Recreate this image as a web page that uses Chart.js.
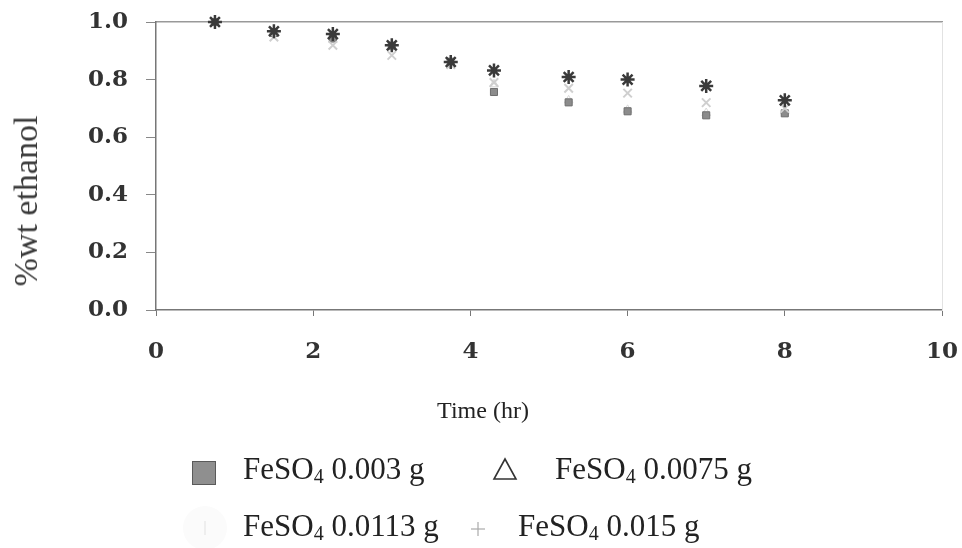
<!DOCTYPE html>
<html>
<head>
<meta charset="utf-8">
<script src="https://cdn.jsdelivr.net/npm/chart.js@4/dist/chart.umd.min.js"></script>
<style>
  html, body { margin: 0; padding: 0; background: #fff; }
  #wrap { position: relative; width: 962px; height: 548px; overflow: hidden; font-family: "Liberation Serif", "Times New Roman", serif; color: #222; }
  #c { position: absolute; left: 0; top: 0; }
  .ytitle { position: absolute; left: 26px; top: 201px; transform: translate(-50%, -50%) rotate(-90deg); font-size: 34px; white-space: nowrap; color: #3a3a3a; }
  .xtitle { position: absolute; left: 483px; top: 410px; transform: translate(-50%, -50%); font-size: 24px; white-space: nowrap; color: #222; }
  .leg { position: absolute; font-size: 31px; white-space: nowrap; color: #222; line-height: 1; }
  .leg sub { font-size: 20px; vertical-align: -4px; line-height: 0; }
  .mk { position: absolute; }
</style>
</head>
<body>
<div id="wrap">
  <canvas id="c" width="962" height="548"></canvas>
  <div class="ytitle">%wt ethanol</div>
  <div class="xtitle">Time (hr)</div>
  <div id="legend"></div>
</div>
<script>
// ---- data ----
const times = [0.75, 1.5, 2.25, 3, 3.75, 4.3, 5.25, 6, 7, 8];
const fe0030 = [1.0, 0.962, 0.943, 0.918, 0.862, 0.757, 0.721, 0.690, 0.676, 0.683];
const fe0075 = [1.0, 0.958, 0.938, 0.912, 0.858, 0.784, 0.728, 0.695, 0.684, 0.690];
const fe0113 = [1.0, 0.948, 0.919, 0.884, 0.852, 0.790, 0.770, 0.753, 0.720, 0.700];
const fe0150 = [1.0, 0.968, 0.958, 0.919, 0.861, 0.832, 0.809, 0.800, 0.778, 0.728];
const seriesNames = ['FeSO₄ 0.003 g', 'FeSO₄ 0.0075 g', 'FeSO₄ 0.0113 g', 'FeSO₄ 0.015 g'];
const xTicks = [0, 2, 4, 6, 8, 10];
const yTicks = [0.0, 0.2, 0.4, 0.6, 0.8, 1.0];

function pts(ys) { return times.map((t, i) => ({ x: t, y: ys[i] })); }

const tickFont = { family: 'DejaVu Serif', size: 23, weight: 'bold' };
function noPad(s) { s.paddingLeft = 0; s.paddingRight = 0; s.paddingTop = 0; s.paddingBottom = 0; }

new Chart(document.getElementById('c'), {
  type: 'scatter',
  data: {
    datasets: [
      { label: seriesNames[3], data: pts(fe0150), pointStyle: 'star', pointRadius: 7, borderColor: '#3a3a3a', backgroundColor: '#3a3a3a', pointBorderWidth: 2.5, order: 1 },
      { label: seriesNames[2], data: pts(fe0113), pointStyle: 'crossRot', pointRadius: 6, borderColor: '#cfcfcf', backgroundColor: '#cfcfcf', pointBorderWidth: 2, order: 2 },
      { label: seriesNames[0], data: pts(fe0030), pointStyle: 'rect', pointRadius: 5, borderColor: '#6e6e6e', backgroundColor: '#8c8c8c', pointBorderWidth: 1, order: 3 },
      { label: seriesNames[1], data: pts(fe0075), pointStyle: 'triangle', pointRadius: 5, borderColor: '#d8d8d8', backgroundColor: 'rgba(0,0,0,0)', pointBorderWidth: 1, order: 4 }
    ]
  },
  options: {
    responsive: false,
    animation: false,
    clip: false,
    layout: { padding: { top: 22, right: 20, bottom: 178, left: 0 } },
    plugins: { legend: { display: false }, tooltip: { enabled: false } },
    scales: {
      x: {
        type: 'linear', position: 'bottom', min: 0, max: 10,
        afterBuildTicks: s => { s.ticks = xTicks.map(v => ({ value: v })); },
        ticks: { font: tickFont, color: '#333', padding: 22, callback: v => String(v) },
        grid: { drawOnChartArea: false, drawTicks: true, tickLength: 6, color: '#777' },
        border: { color: '#777', width: 1.5 },
        afterFit: s => { s.height = 60; noPad(s); }
      },
      x2: {
        type: 'linear', position: 'top', min: 0, max: 10,
        ticks: { display: false },
        grid: { drawOnChartArea: false, drawTicks: false },
        border: { color: '#999', width: 1.5 },
        afterFit: s => { s.height = 0; noPad(s); }
      },
      y: {
        type: 'linear', position: 'left', min: 0, max: 1,
        afterBuildTicks: s => { s.ticks = yTicks.map(v => ({ value: v })); },
        ticks: { font: tickFont, color: '#333', padding: 18, callback: v => Number(v).toFixed(1) },
        grid: { drawOnChartArea: false, drawTicks: true, tickLength: 10, color: '#888' },
        border: { color: '#777', width: 1.5 },
        afterFit: s => { s.width = 156; noPad(s); }
      },
      y2: {
        type: 'linear', position: 'right', min: 0, max: 1,
        ticks: { display: false },
        grid: { drawOnChartArea: false, drawTicks: false },
        border: { color: '#e2e2e2', width: 1 },
        afterFit: s => { s.width = 0; noPad(s); }
      }
    }
  }
});

// ---- legend (HTML text, two rows) ----
const legendPos = [
  { tx: 243, ty: 453, mk: 'square', mx: 192, my: 461 },
  { tx: 555, ty: 453, mk: 'tri', mx: 492, my: 457 },
  { tx: 243, ty: 510, mk: 'circ', mx: 180, my: 503 },
  { tx: 518, ty: 510, mk: 'plus', mx: 470, my: 521 }
];
const legend = document.getElementById('legend');
seriesNames.forEach((name, i) => {
  const p = legendPos[i];
  const t = document.createElement('div');
  t.className = 'leg';
  t.style.left = p.tx + 'px';
  t.style.top = p.ty + 'px';
  t.innerHTML = name.replace('₄', '<sub>4</sub>');
  legend.appendChild(t);
  const m = document.createElement('div');
  m.className = 'mk';
  m.style.left = p.mx + 'px';
  m.style.top = p.my + 'px';
  if (p.mk === 'square') {
    m.style.width = '22px'; m.style.height = '22px';
    m.style.background = '#8f8f8f'; m.style.border = '1px solid #5a5a5a';
  } else if (p.mk === 'tri') {
    m.innerHTML = '<svg width="26" height="24"><polygon points="13,2 24,22 2,22" fill="none" stroke="#333" stroke-width="1.6"/></svg>';
  } else if (p.mk === 'circ') {
    m.innerHTML = '<svg width="50" height="50"><circle cx="25" cy="25" r="22" fill="#fbfbfb"/><line x1="25" y1="18" x2="25" y2="32" stroke="#eee" stroke-width="2"/></svg>';
  } else {
    m.innerHTML = '<svg width="16" height="16"><line x1="8" y1="1" x2="8" y2="15" stroke="#aaa" stroke-width="1.2"/><line x1="1" y1="8" x2="15" y2="8" stroke="#aaa" stroke-width="1.2"/></svg>';
  }
  legend.appendChild(m);
});
</script>
</body>
</html>
